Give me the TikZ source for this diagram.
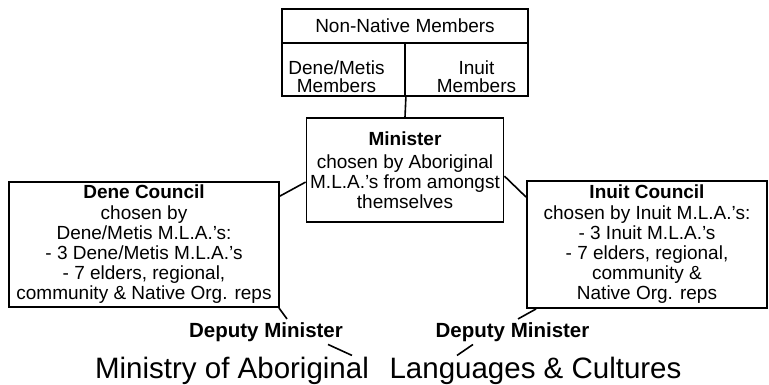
\documentclass[tikz,border=0pt]{standalone}
\usepackage{fontspec}
\setmainfont{Liberation Sans}
\tikzset{
	box/.style={draw,line width=1.8pt,inner sep=0pt,align=center,font=\fontsize{19}{20}\selectfont},
	txt/.style={inner sep=0pt,align=center,font=\fontsize{19}{18.5}\selectfont},
	deputy/.style={inner sep=3pt,anchor=base,font=\fontsize{20.5}{22}\selectfont\bfseries},
	ministry/.style={inner sep=1pt,anchor=base,font=\fontsize{29.5}{32}\selectfont},
	link/.style={line width=1.6pt}
}
\begin{document}
\begin{tikzpicture}[x=1pt,y=-1pt]
		\useasboundingbox (0,0) rectangle (769,385);
		\node[box,minimum width=246pt,minimum height=34pt] (nonnative) at (405,26) {Non-Native Members};
		\node[box,minimum width=123pt,minimum height=53pt] (denecell) at (343.5,69.5) {};
		\node[box,minimum width=123pt,minimum height=53pt] (inuitcell) at (466.5,69.5) {};
		\node[txt] (denemem) at ([xshift=-7pt,yshift=-7pt]denecell.center) {Dene/Metis\\Members};
		\node[txt] (inuitmem) at ([xshift=10pt,yshift=-7pt]inuitcell.center) {Inuit\\Members};
		\node[box,minimum width=197pt,minimum height=104pt] (minister) at (405,170) {\textbf{Minister}\\[3pt]chosen by Aboriginal\\M.L.A.'s from amongst\\themselves};
		\node[box,minimum width=270pt,minimum height=125pt] (dene) at (144,244.5) {\textbf{Dene Council}\\[1pt]chosen by\\Dene/Metis M.L.A.'s:\\- 3 Dene/Metis M.L.A.'s\\- 7 elders, regional,\\community \& Native Org. reps};
		\node[box,minimum width=240pt,minimum height=127pt] (inuit) at (647,244.5) {\textbf{Inuit Council}\\[1pt]chosen by Inuit M.L.A.'s:\\- 3 Inuit M.L.A.'s\\- 7 elders, regional,\\community \&\\Native Org. reps};
		\node[deputy] (depL) at (266,337) {Deputy Minister};
		\node[deputy] (depR) at (512.5,337) {Deputy Minister};
		\node[ministry] (minA) at (232,378) {Ministry of Aboriginal};
		\node[ministry] (minB) at (535.5,378) {Languages \& Cultures};
		\draw[link] (denecell.south east) -- (minister.north);
		\draw[link] ([yshift=-15pt]dene.north east) -- ([yshift=-65pt]minister.north west);
		\draw[link] ([yshift=-59pt]minister.north east) -- ([yshift=-17pt]inuit.north west);
		\draw[link] ([xshift=-1pt]dene.south east) -- ([xshift=21pt]depL.north);
		\draw[link] ([xshift=62pt]depL.south) -- ([xshift=120pt]minA.north);
		\draw[link] ([xshift=10pt]inuit.south west) -- ([xshift=5.5pt]depR.north);
		\draw[link] ([xshift=-39.5pt]depR.south) -- ([xshift=-78.5pt]minB.north);
	\end{tikzpicture}
\end{document}
